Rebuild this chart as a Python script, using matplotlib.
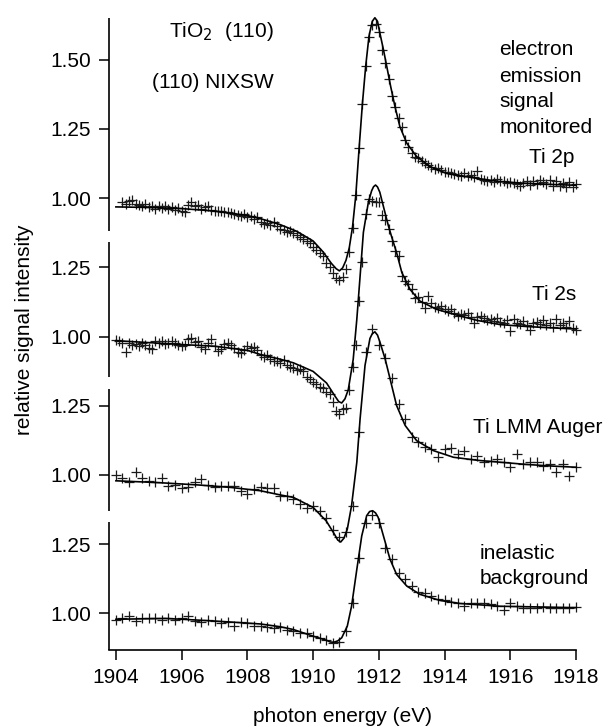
import numpy as np
import matplotlib.pyplot as plt

plt.rcParams['font.family'] = ['Liberation Sans', 'DejaVu Sans']
plt.rcParams['font.size'] = 15

# measured points: first energy, step (eV) and relative intensities
ti2p_start, ti2p_step = 1904.2, 0.1
ti2p_y = [0.985, 0.978, 0.990, 0.992, 0.980, 0.975, 0.970, 0.978, 0.968, 0.972,
          0.962, 0.970, 0.965, 0.972, 0.960, 0.968, 0.958, 0.964, 0.955, 0.950,
          0.975, 0.985, 0.972, 0.975, 0.962, 0.966, 0.970, 0.958, 0.955, 0.952,
          0.954, 0.948, 0.950, 0.946, 0.944, 0.940, 0.936, 0.942, 0.930, 0.934,
          0.926, 0.932, 0.912, 0.905, 0.910, 0.902, 0.912, 0.898, 0.890, 0.886,
          0.878, 0.880, 0.872, 0.868, 0.858, 0.852, 0.845, 0.838, 0.825, 0.812,
          0.800, 0.790, 0.765, 0.752, 0.728, 0.712, 0.705, 0.715, 0.745, 0.805,
          0.893, 1.011, 1.180, 1.340, 1.476, 1.580, 1.625, 1.628, 1.600, 1.536,
          1.488, 1.430, 1.367, 1.330, 1.289, 1.258, 1.210, 1.186, 1.162, 1.150,
          1.144, 1.132, 1.126, 1.118, 1.113, 1.105, 1.108, 1.100, 1.095, 1.094,
          1.090, 1.088, 1.085, 1.080, 1.090, 1.078, 1.082, 1.075, 1.096, 1.070,
          1.066, 1.060, 1.064, 1.058, 1.070, 1.062, 1.060, 1.055, 1.058, 1.056,
          1.050, 1.042, 1.055, 1.060, 1.048, 1.062, 1.052, 1.066, 1.058, 1.050,
          1.064, 1.045, 1.060, 1.042, 1.055, 1.040, 1.058, 1.040, 1.050]

ti2s_start, ti2s_step = 1904.0, 0.1
ti2s_y = [0.988, 0.982, 0.978, 0.945, 0.975, 0.968, 0.972, 0.966, 0.975, 0.970,
          0.958, 0.956, 0.982, 0.975, 0.985, 0.972, 0.978, 0.982, 0.975, 0.970,
          0.964, 0.968, 0.990, 0.995, 0.980, 0.985, 0.962, 0.955, 0.975, 0.990,
          0.965, 0.948, 0.955, 0.972, 0.975, 0.970, 0.958, 0.945, 0.940, 0.952,
          0.965, 0.958, 0.962, 0.950, 0.932, 0.925, 0.935, 0.918, 0.910, 0.912,
          0.905, 0.915, 0.898, 0.890, 0.885, 0.878, 0.882, 0.874, 0.855, 0.848,
          0.835, 0.830, 0.818, 0.815, 0.800, 0.792, 0.765, 0.730, 0.720, 0.738,
          0.742, 0.808, 0.890, 0.971, 1.128, 1.270, 1.442, 1.496, 1.490, 1.484,
          1.484, 1.438, 1.420, 1.388, 1.345, 1.309, 1.290, 1.218, 1.200, 1.188,
          1.170, 1.140, 1.142, 1.125, 1.104, 1.146, 1.120, 1.105, 1.104, 1.110,
          1.098, 1.092, 1.098, 1.085, 1.074, 1.082, 1.078, 1.085, 1.072, 1.050,
          1.070, 1.075, 1.068, 1.060, 1.064, 1.055, 1.066, 1.052, 1.048, 1.058,
          1.020, 1.062, 1.050, 1.045, 1.055, 1.040, 1.025, 1.048, 1.052, 1.045,
          1.060, 1.040, 1.048, 1.035, 1.062, 1.042, 1.050, 1.035, 1.055, 1.030,
          1.025]

lmm_start, lmm_step = 1904.0, 0.2
lmm_y = [1.000, 0.988, 0.976, 1.010, 0.988, 0.980, 0.976, 0.988, 0.961, 0.964,
         0.952, 0.955, 0.973, 0.986, 0.964, 0.955, 0.959, 0.959, 0.959, 0.943,
         0.931, 0.949, 0.958, 0.952, 0.952, 0.925, 0.923, 0.915, 0.895, 0.879,
         0.889, 0.871, 0.843, 0.800, 0.775, 0.795, 0.889, 1.155, 1.445, 1.526,
         1.468, 1.423, 1.350, 1.257, 1.203, 1.137, 1.118, 1.100, 1.094, 1.064,
         1.094, 1.097, 1.076, 1.085, 1.058, 1.070, 1.048, 1.052, 1.056, 1.046,
         1.028, 1.074, 1.040, 1.046, 1.048, 1.031, 1.040, 1.012, 1.040, 0.998,
         1.028]

inel_start, inel_step = 1904.0, 0.2
inel_y = [0.978, 0.984, 0.990, 0.972, 0.984, 0.984, 0.984, 0.978, 0.984, 0.978,
          0.984, 0.990, 0.972, 0.969, 0.978, 0.972, 0.966, 0.969, 0.954, 0.969,
          0.966, 0.954, 0.954, 0.952, 0.948, 0.950, 0.942, 0.936, 0.930, 0.928,
          0.920, 0.912, 0.903, 0.894, 0.896, 0.936, 1.039, 1.202, 1.326, 1.355,
          1.326, 1.238, 1.196, 1.147, 1.123, 1.099, 1.077, 1.075, 1.063, 1.051,
          1.048, 1.042, 1.036, 1.027, 1.036, 1.036, 1.039, 1.033, 1.027, 1.012,
          1.036, 1.027, 1.021, 1.018, 1.021, 1.024, 1.021, 1.018, 1.021, 1.021,
          1.024]

# fitted curves
ti2p_fit_e = [1904.0, 1905.0, 1906.0, 1907.0, 1908.0, 1908.5, 1909.0, 1909.5, 1910.0,
              1910.3, 1910.55, 1910.7, 1910.8, 1910.9, 1911.0, 1911.1, 1911.2, 1911.3,
              1911.4, 1911.5, 1911.6, 1911.7, 1911.8, 1911.88, 1911.96, 1912.03, 1912.14,
              1912.24, 1912.36, 1912.49, 1912.64, 1912.85, 1913.15, 1913.56, 1914.06,
              1914.5, 1915.0, 1915.7, 1916.5, 1917.3, 1918.0]
ti2p_fit_y = [0.968, 0.966, 0.962, 0.953, 0.937, 0.922, 0.904, 0.880, 0.845,
              0.806, 0.765, 0.745, 0.737, 0.748, 0.775, 0.820, 0.896, 1.011,
              1.180, 1.340, 1.476, 1.584, 1.638, 1.651, 1.638, 1.597, 1.536,
              1.476, 1.403, 1.331, 1.258, 1.198, 1.150, 1.113, 1.089,
              1.080, 1.071, 1.059, 1.053, 1.049, 1.046]

ti2s_fit_e = [1904.0, 1905.0, 1906.0, 1907.0, 1908.0, 1908.4, 1909.0, 1909.4, 1910.0,
              1910.41, 1910.67, 1910.78, 1910.87, 1910.97, 1911.07, 1911.22, 1911.33,
              1911.43, 1911.53, 1911.68, 1911.78, 1911.84, 1911.9, 1911.96, 1912.03,
              1912.16, 1912.29, 1912.39, 1912.54, 1912.7, 1912.95, 1913.25, 1913.76,
              1914.47, 1915.0, 1915.69, 1916.5, 1917.3, 1918.0]
ti2s_fit_y = [0.985, 0.978, 0.971, 0.965, 0.950, 0.935, 0.918, 0.905, 0.874,
              0.832, 0.784, 0.765, 0.760, 0.775, 0.808, 0.917, 1.062,
              1.218, 1.376, 1.484, 1.526, 1.541, 1.547, 1.540, 1.521,
              1.460, 1.400, 1.360, 1.303, 1.231, 1.170, 1.128, 1.098,
              1.074, 1.058, 1.043, 1.036, 1.031, 1.027]

lmm_fit_e = [1904.0, 1905.0, 1905.5, 1906.5, 1907.5, 1908.4, 1909.0, 1909.4, 1910.0,
             1910.4, 1910.65, 1910.75, 1910.84, 1910.94, 1911.04, 1911.17, 1911.33,
             1911.43, 1911.58, 1911.73, 1911.8, 1911.88, 1911.96, 1912.03, 1912.19,
             1912.34, 1912.54, 1912.8, 1913.15, 1913.66, 1914.27, 1915.0, 1915.7,
             1916.5, 1917.3, 1918.0]
lmm_fit_y = [0.979, 0.974, 0.971, 0.964, 0.955, 0.943, 0.928, 0.919, 0.883,
             0.834, 0.786, 0.765, 0.758, 0.772, 0.804, 0.889, 1.046,
             1.203, 1.396, 1.493, 1.510, 1.517, 1.505, 1.481, 1.420,
             1.348, 1.251, 1.179, 1.124, 1.088, 1.064, 1.053, 1.046,
             1.038, 1.032, 1.028]

inel_fit_e = [1904.0, 1905.5, 1906.5, 1907.5, 1908.4, 1909.0, 1909.4, 1910.0, 1910.41,
              1910.52, 1910.63, 1910.75, 1910.87, 1911.04, 1911.17, 1911.33, 1911.48,
              1911.63, 1911.72, 1911.81, 1911.9, 1911.98, 1912.14, 1912.34, 1912.54,
              1912.85, 1913.25, 1913.86, 1914.47, 1915.69, 1918.0]
inel_fit_y = [0.979, 0.982, 0.976, 0.969, 0.962, 0.952, 0.942, 0.918, 0.903,
              0.897, 0.896, 0.901, 0.912, 0.954, 1.026, 1.159, 1.280,
              1.353, 1.368, 1.371, 1.363, 1.347, 1.280, 1.196, 1.141,
              1.099, 1.069, 1.047, 1.036, 1.026, 1.021]

# axis segments (in each panel's own units) and tick values
seg_ranges = [(0.881, 1.650), (0.854, 1.341), (0.870, 1.310), (0.868, 1.330)]
panel_ticks = [[1.00, 1.25, 1.50], [1.00, 1.25], [1.00, 1.25], [1.00, 1.25]]

offsets = [0.0, 0.5, 1.0, 1.5]

fig = plt.figure(figsize=(6.1, 7.27), dpi=100)
ax = fig.add_axes([0.1787, 0.1059, 0.7656, 0.8693])

points = [(ti2p_start, ti2p_step, ti2p_y), (ti2s_start, ti2s_step, ti2s_y),
          (lmm_start, lmm_step, lmm_y), (inel_start, inel_step, inel_y)]
fits = [(ti2p_fit_e, ti2p_fit_y), (ti2s_fit_e, ti2s_fit_y),
        (lmm_fit_e, lmm_fit_y), (inel_fit_e, inel_fit_y)]

for k in range(4):
    start, step, vals = points[k]
    e = start + step * np.arange(len(vals))
    ax.plot(e, np.array(vals) - offsets[k], ls='none', marker='+', ms=7.5,
            mew=0.9, color='0.1', clip_on=False)
    fe, fy = fits[k]
    ax.plot(fe, np.array(fy) - offsets[k], color='black', lw=1.2, clip_on=False)

# broken left axis
trans = ax.get_yaxis_transform()
for k in range(4):
    lo, hi = seg_ranges[k]
    ax.plot([0, 0], [lo - offsets[k], hi - offsets[k]], color='black', lw=1.2,
            transform=trans, clip_on=False, solid_capstyle='butt')

ticks = []
labels = []
for k in range(4):
    for t in panel_ticks[k]:
        ticks.append(t - offsets[k])
        labels.append(f'{t:.2f}')
ax.set_yticks(ticks)
ax.set_yticklabels(labels)

ax.set_xlim(1903.79, 1918.0)
ax.set_ylim(-0.632, 1.650)
ax.set_xticks(np.arange(1904, 1919, 2))

for side in ['left', 'top', 'right']:
    ax.spines[side].set_visible(False)
ax.spines['bottom'].set_linewidth(1.2)
ax.tick_params(axis='both', direction='out', length=7, width=1.1, pad=6)

fig.text(0.040, 0.546, 'relative signal intensity', rotation=90, ha='center', va='center')
fig.text(0.562, 0.015, 'photon energy (eV)', ha='center', va='center')

ax.text(1907.2, 1.603, 'TiO$_2$  (110)', ha='center', va='center')
ax.text(1906.95, 1.419, '(110) NIXSW', ha='center', va='center')
for txt, yy in zip(['electron', 'emission', 'signal', 'monitored'],
                   [1.516, 1.420, 1.330, 1.234]):
    ax.text(1915.66, yy, txt, ha='left', va='baseline')
ax.text(1917.94, 1.127, 'Ti 2p', ha='right', va='baseline')
ax.text(1918.0, 0.632, 'Ti 2s', ha='right', va='baseline')
ax.text(1914.865, 0.150, 'Ti LMM Auger', ha='left', va='baseline')
ax.text(1915.08, -0.303, 'inelastic', ha='left', va='baseline')
ax.text(1915.08, -0.394, 'background', ha='left', va='baseline')

fig.savefig('out.png', dpi=100)
